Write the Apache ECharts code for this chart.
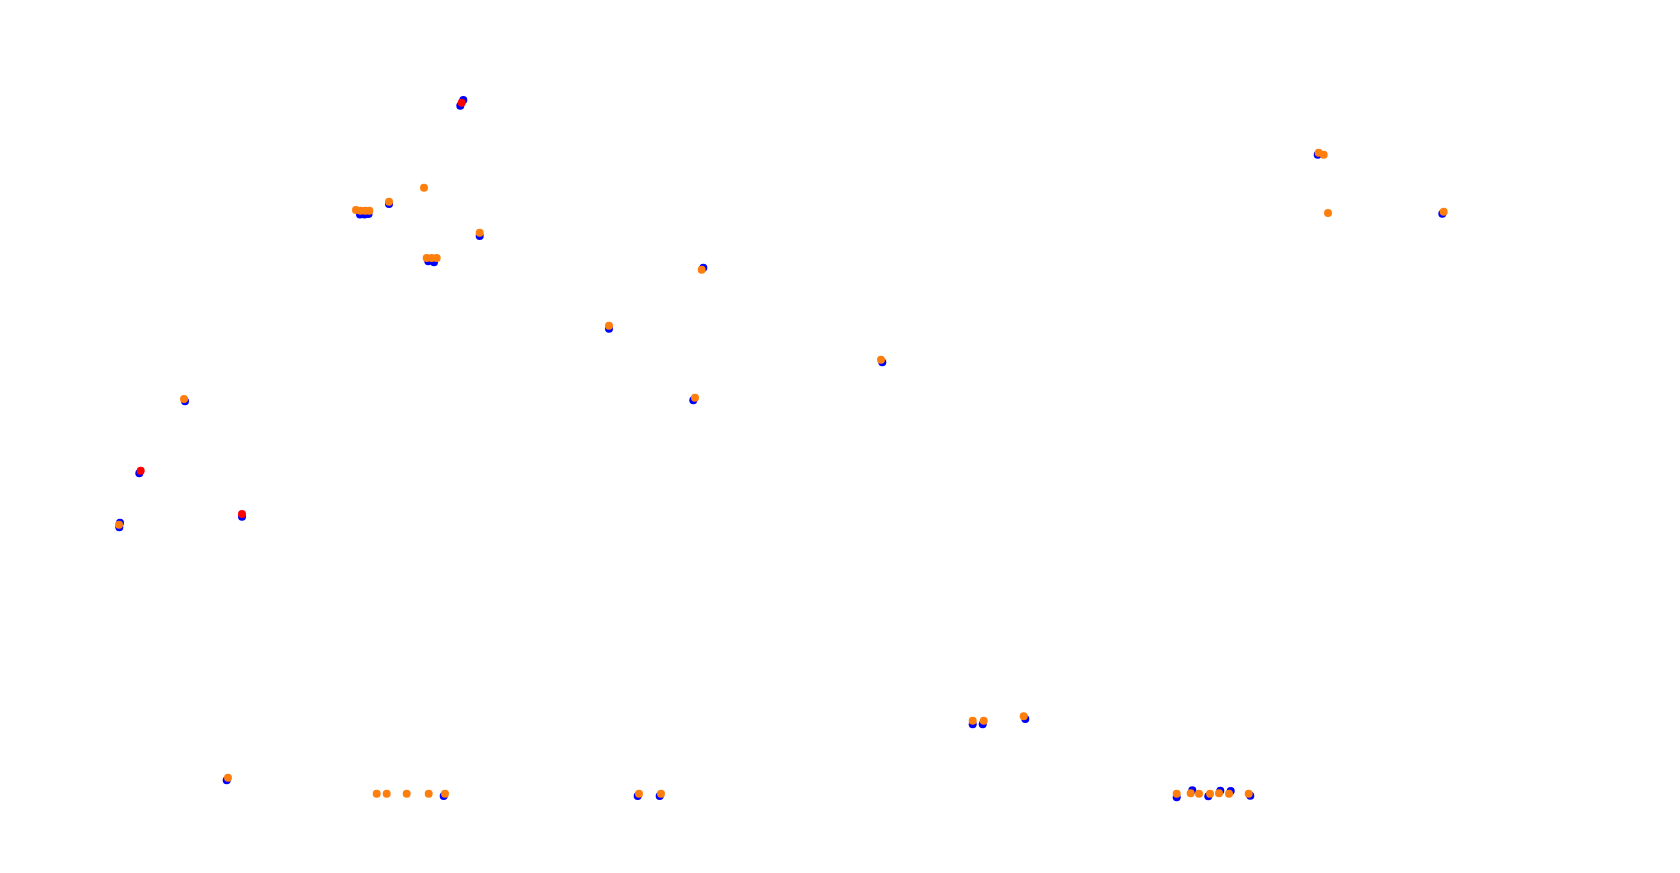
<!DOCTYPE html>
<html>
<head>
<meta charset="utf-8">
<script src="https://cdn.jsdelivr.net/npm/echarts@6/dist/echarts.min.js"></script>
<style>html,body{margin:0;padding:0;background:#fff}#c{width:1680px;height:873px}</style>
</head>
<body>
<div id="c"></div>
<script>
// Point positions (x right, y down, arbitrary units 0..1680 / 0..873)
const bluePoints = [
  [463.3,100],[460.3,105.7],[389,204],[360,214.5],[364.5,214.5],[368.5,214],
  [479.7,236],[428.3,261.3],[434,262.3],[185,401.3],[139.3,473.3],
  [120,522.7],[119.3,527.3],[242,516.7],[703.3,267.7],[609,328.7],
  [882.3,362.3],[693.3,400.3],[1317.7,154.7],[1442.3,213.7],
  [226.7,780.3],[443.7,796],[637.7,796],[659.7,796],
  [972.7,724.3],[982.7,724.3],[1025.3,719],
  [1176.7,797.3],[1192.3,790.3],[1208.3,796.3],[1220.3,790.7],[1230.7,791],[1250.3,795.7]
];
const redPoints = [
  [461.7,102.7],[140.7,470.7],[242,514]
];
const orangePoints = [
  [424,187.7],[389,201.7],[356,210],[360.7,210.7],[365.3,210.7],[369.3,210.7],
  [479.7,232.7],[426.7,258],[431.7,258],[436.7,258],
  [184,399],[119,524.7],
  [701.7,269.7],[609,325.7],[881,359.7],[695,397.7],
  [1318.7,152.7],[1323.7,154.7],[1328,213],[1443.7,211.7],
  [228,777.7],[376.7,793.7],[386.7,793.7],[406.7,793.7],[428.7,793.7],[445,793.7],
  [639,793.7],[661,793.7],
  [972.7,720.7],[983.7,720.7],[1023.7,716.3],
  [1176.7,793.7],[1190.7,793.3],[1199,793.7],[1210,793.7],[1219,793.3],[1229,793.7],[1248.7,793.7]
];
const seriesColors = {blue:'#0000ff', red:'#ff0000', orange:'#ff7f0e'};

const chart = echarts.init(document.getElementById('c'), null, {renderer:'canvas'});
function sc(name, data, color){
  return {name, type:'scatter', data, symbol:'circle', symbolSize:8,
    itemStyle:{color, opacity:1}, silent:true, animation:false};
}
chart.setOption({
  animation:false,
  backgroundColor:'#ffffff',
  grid:{left:0,right:0,top:0,bottom:0},
  xAxis:{type:'value',min:0,max:1680,show:false},
  yAxis:{type:'value',min:0,max:873,inverse:true,show:false},
  series:[
    sc('blue', bluePoints, seriesColors.blue),
    sc('red', redPoints, seriesColors.red),
    sc('orange', orangePoints, seriesColors.orange)
  ]
});
</script>
</body>
</html>
